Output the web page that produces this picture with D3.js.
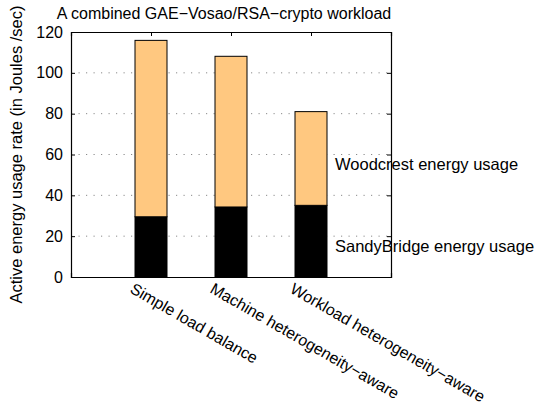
<!DOCTYPE html>
<html>
<head>
<meta charset="utf-8">
<script src="https://cdn.jsdelivr.net/npm/d3@7"></script>
<style>
  body { margin: 0; background: #fff; }
  text { font-family: "Liberation Sans", Arial, sans-serif; }
</style>
</head>
<body>
<div id="chart"></div>
<script>
// data
var categories = ["Simple load balance", "Machine heterogeneity\u2212aware", "Workload heterogeneity\u2212aware"];
var sandyBridge = [29.5, 34.3, 35.1];
var woodcrest = [86.4, 73.8, 45.9];
var yTicks = [0, 20, 40, 60, 80, 100, 120];
var seriesNames = ["SandyBridge energy usage", "Woodcrest energy usage"];
var seriesColors = ["#000000", "#ffc880"];
var labelY = [15, 55];

var width = 545, height = 408;
var svg = d3.select("#chart").append("svg")
  .attr("width", width)
  .attr("height", height);

var x = d3.scaleLinear().domain([0, 4]).range([71, 391]);
var y = d3.scaleLinear().domain([0, 120]).range([277, 32]);
var barW = 0.4;

var rows = categories.map(function(c, i){
  return {cat: c, pos: i + 1, sandy: sandyBridge[i], wood: woodcrest[i]};
});
var stacked = d3.stack().keys(["sandy", "wood"])(rows);

// dotted grid
svg.append("g").selectAll("line")
  .data(yTicks.slice(1, -1))
  .enter().append("line")
  .attr("x1", x(0)).attr("x2", x(4))
  .attr("y1", function(d){ return y(d); })
  .attr("y2", function(d){ return y(d); })
  .attr("stroke", "#8a8a8a")
  .attr("stroke-width", 1)
  .attr("stroke-dasharray", "1.2,6.3");

// bars
svg.append("g").selectAll("g")
  .data(stacked)
  .enter().append("g")
  .attr("fill", function(d, i){ return seriesColors[i]; })
  .selectAll("rect")
  .data(function(d){ return d; })
  .enter().append("rect")
  .attr("x", function(d){ return x(d.data.pos - barW / 2); })
  .attr("width", x(barW) - x(0))
  .attr("y", function(d){ return y(d[1]); })
  .attr("height", function(d){ return y(d[0]) - y(d[1]); })
  .attr("stroke", "#000")
  .attr("stroke-width", 1);

// series labels inside the plot
svg.append("g").selectAll("text")
  .data(seriesNames)
  .enter().append("text")
  .attr("x", x(3.3))
  .attr("y", function(d, i){ return y(labelY[i]); })
  .attr("dy", "0.35em")
  .attr("font-size", 16.5)
  .text(function(d){ return d; });

// axes frame
var axLeft = svg.append("g").attr("transform", "translate(" + x(0) + ",0)")
  .call(d3.axisLeft(y).tickValues(yTicks).tickSize(-4).tickPadding(8));
var axRight = svg.append("g").attr("transform", "translate(" + x(4) + ",0)")
  .call(d3.axisRight(y).tickValues(yTicks).tickSize(-4).tickFormat(""));
var axTop = svg.append("g").attr("transform", "translate(0," + y(120) + ")")
  .call(d3.axisTop(x).tickValues([1, 2, 3]).tickSize(-4).tickFormat(""));
var axBottom = svg.append("g").attr("transform", "translate(0," + y(0) + ")")
  .call(d3.axisBottom(x).tickValues([1, 2, 3]).tickSize(-4).tickFormat(""));

[axLeft, axRight, axTop, axBottom].forEach(function(a){
  a.selectAll(".domain").attr("stroke", "#000").attr("stroke-width", 1.2);
  a.selectAll(".tick line").attr("stroke", "#000");
});
axLeft.selectAll(".tick text")
  .attr("font-size", 16)
  .attr("fill", "#000")
  .attr("font-family", "Liberation Sans, Arial, sans-serif");

// rotated category labels
svg.append("g").selectAll("text")
  .data(rows)
  .enter().append("text")
  .attr("transform", function(d){
    return "translate(" + (x(d.pos) - 22) + ",292) rotate(30)";
  })
  .attr("font-size", 16)
  .text(function(d){ return d.cat; });

// title
svg.append("text")
  .attr("x", 224)
  .attr("y", 19)
  .attr("text-anchor", "middle")
  .attr("font-size", 16)
  .text("A combined GAE\u2212Vosao/RSA\u2212crypto workload");

// y label
svg.append("text")
  .attr("transform", "translate(22," + ((y(0) + y(120)) / 2) + ") rotate(-90)")
  .attr("text-anchor", "middle")
  .attr("font-size", 16.5)
  .text("Active energy usage rate (in Joules /sec)");
</script>
</body>
</html>
